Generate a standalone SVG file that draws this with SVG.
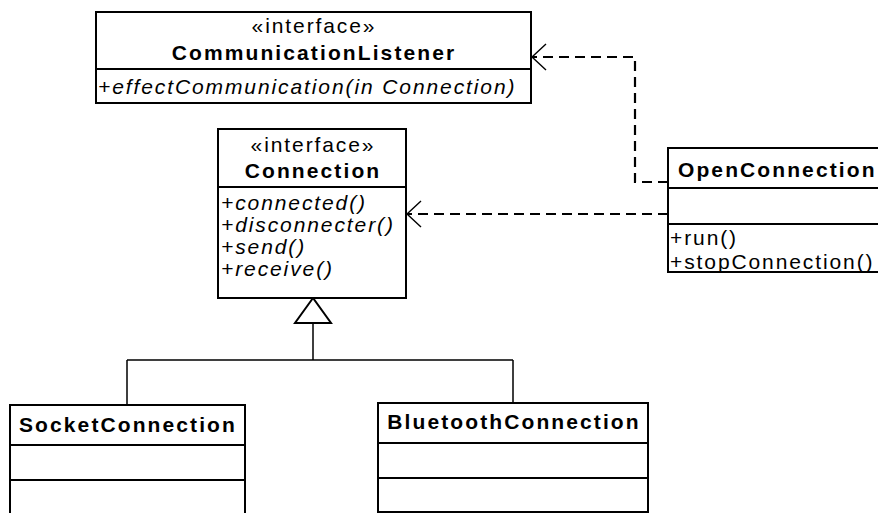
<svg xmlns="http://www.w3.org/2000/svg" width="878" height="513" viewBox="0 0 878 513">
<defs>
<style>
.box{fill:#fff;stroke:#000;stroke-width:2}
.div{stroke:#000;stroke-width:2}
.t{font-family:"Liberation Sans",Arial,sans-serif;font-size:21px;fill:#000;letter-spacing:1.9px}
.b{font-weight:bold;letter-spacing:2.1px}
.i{font-style:italic}
.c{text-anchor:middle}
.dash{fill:none;stroke:#000;stroke-width:2.2;stroke-dasharray:10,6}
.solid{fill:none;stroke:#000;stroke-width:1.5}
</style>
<marker id="open" markerUnits="userSpaceOnUse" markerWidth="20" markerHeight="30" refX="15" refY="14" orient="auto" viewBox="0 0 20 28">
<path d="M1,1 L15,14 L1,27" fill="none" stroke="#000" stroke-width="1.4"/>
</marker>
</defs>
<rect width="878" height="513" fill="#fff"/>

<g id="connectors">
<path class="dash" d="M668,182 H635 V57 H532" marker-end="url(#open)"/>
<path class="dash" d="M668,214 H407" marker-end="url(#open)"/>
<polygon points="313,298 295,323 331,323" fill="#fff" stroke="#000" stroke-width="2"/>
<path class="solid" d="M313,323 V360 M127,360 H513 M127,360 V405 M513,360 V403"/>
</g>

<g id="CommunicationListener">
<rect class="box" x="96" y="12" width="435" height="91"/>
<line class="div" x1="96" y1="69" x2="531" y2="69"/>
<text class="t c" x="314" y="33">«interface»</text>
<text class="t b c" x="314" y="60">CommunicationListener</text>
<text class="t i" x="98" y="94">+effectCommunication(in Connection)</text>
</g>

<g id="Connection">
<rect class="box" x="218" y="129" width="188" height="169"/>
<line class="div" x1="218" y1="187" x2="406" y2="187"/>
<text class="t c" x="313" y="152">«interface»</text>
<text class="t b c" x="313" y="178">Connection</text>
<text class="t i" x="221" y="210">+connected()</text>
<text class="t i" x="221" y="232">+disconnecter()</text>
<text class="t i" x="221" y="254">+send()</text>
<text class="t i" x="221" y="276">+receive()</text>
</g>

<g id="OpenConnection">
<rect class="box" x="668" y="148" width="240" height="124"/>
<line class="div" x1="668" y1="188" x2="908" y2="188"/>
<line class="div" x1="668" y1="224" x2="908" y2="224"/>
<text class="t b" x="678" y="177">OpenConnection</text>
<text class="t" x="670" y="245">+run()</text>
<text class="t" x="670" y="269">+stopConnection()</text>
</g>

<g id="SocketConnection">
<rect class="box" x="10" y="405" width="235" height="130"/>
<line class="div" x1="10" y1="445" x2="245" y2="445"/>
<line class="div" x1="10" y1="480" x2="245" y2="480"/>
<text class="t b c" x="128" y="432">SocketConnection</text>
</g>

<g id="BluetoothConnection">
<rect class="box" x="378" y="403" width="270" height="109"/>
<line class="div" x1="378" y1="443" x2="648" y2="443"/>
<line class="div" x1="378" y1="478" x2="648" y2="478"/>
<text class="t b c" x="514" y="429">BluetoothConnection</text>
</g>
</svg>
